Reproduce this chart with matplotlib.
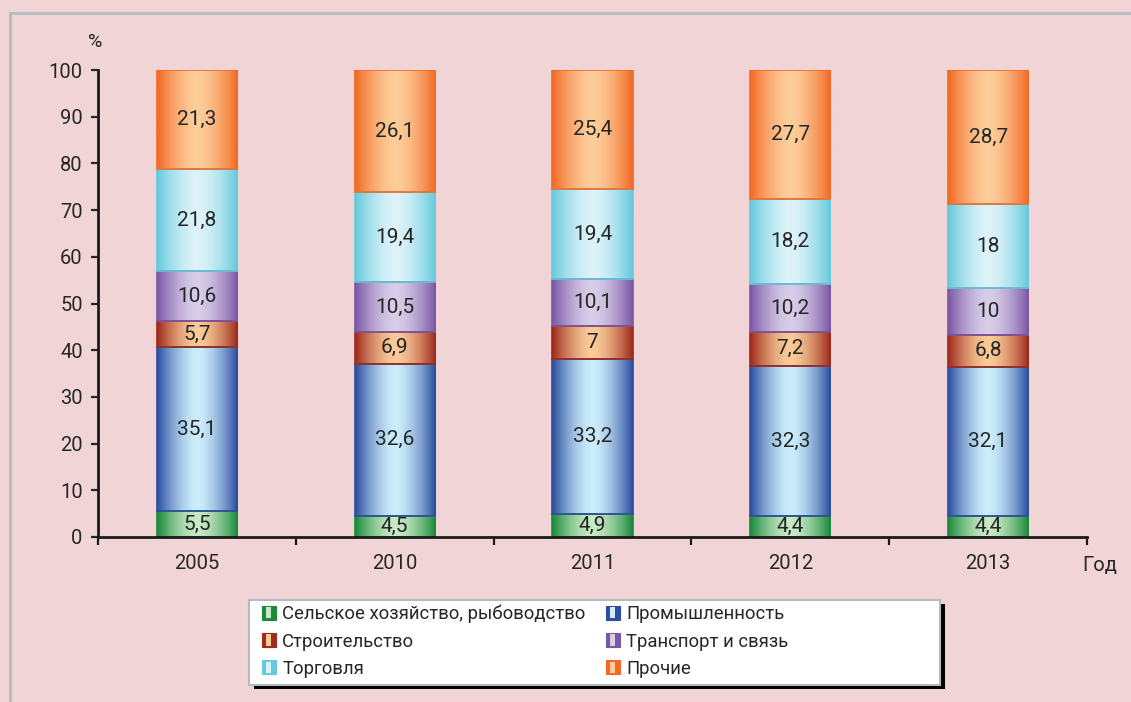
import numpy as np
import matplotlib
matplotlib.use("Agg")
import matplotlib.pyplot as plt
from matplotlib.patches import Rectangle
from matplotlib.lines import Line2D
from matplotlib.legend_handler import HandlerBase
from matplotlib.colors import to_rgb

plt.rcParams['font.family'] = ['Roboto', 'DejaVu Sans']

years = ['2005', '2010', '2011', '2012', '2013']
series_names = ['Сельское хозяйство, рыбоводство', 'Промышленность', 'Строительство',
                'Транспорт и связь', 'Торговля', 'Прочие']
agriculture = [5.5, 4.5, 4.9, 4.4, 4.4]
industry = [35.1, 32.6, 33.2, 32.3, 32.1]
construction = [5.7, 6.9, 7.0, 7.2, 6.8]
transport = [10.6, 10.5, 10.1, 10.2, 10.0]
trade = [21.8, 19.4, 19.4, 18.2, 18.0]
other = [21.3, 26.1, 25.4, 27.7, 28.7]
series = [agriculture, industry, construction, transport, trade, other]
labels_text = [
    ['5,5', '4,5', '4,9', '4,4', '4,4'],
    ['35,1', '32,6', '33,2', '32,3', '32,1'],
    ['5,7', '6,9', '7', '7,2', '6,8'],
    ['10,6', '10,5', '10,1', '10,2', '10'],
    ['21,8', '19,4', '19,4', '18,2', '18'],
    ['21,3', '26,1', '25,4', '27,7', '28,7'],
]
dark_colors = ['#1B8A3C', '#2D4EA0', '#9E2B1B', '#7B58A6', '#66CADC', '#F26A25']
light_colors = ['#C8EAC4', '#CCEEFB', '#FACB98', '#D8CEE8', '#DDF3F9', '#FDCD9A']

BG = '#F1D5D6'
W, H = 1131, 702
fig = plt.figure(figsize=(W / 100, H / 100), dpi=100, facecolor=BG)

# outer frame lines
fig.add_artist(Line2D([10 / W, 1.0], [1 - 13 / H, 1 - 13 / H], color='#B9BDBE', lw=2.2))
fig.add_artist(Line2D([10 / W, 10 / W], [0, 1 - 13 / H], color='#B9BDBE', lw=2.2))

ax = fig.add_axes([98 / W, 165 / H, (1087 - 98) / W, (537 - 70) / H])
ax.set_facecolor('none')


def gradient(dark, light, n=80, p=1.6):
    d = np.array(to_rgb(dark))
    l = np.array(to_rgb(light))
    t = np.linspace(0, 1, n)
    w = np.abs(2 * t - 1) ** p
    return (l[None, :] + (d - l)[None, :] * w[:, None])[None, :, :]


x = np.arange(len(years))
bottom = np.zeros(len(years))
for vals, dk, lt, labs in zip(series, dark_colors, light_colors, labels_text):
    bars = ax.bar(x, vals, width=0.405, bottom=bottom, facecolor='none',
                  edgecolor=dk, linewidth=1.2, zorder=3)
    g = gradient(dk, lt)
    for r, lab in zip(bars.patches, labs):
        x0, y0 = r.get_x(), r.get_y()
        ax.imshow(g, extent=[x0, x0 + r.get_width(), y0, y0 + r.get_height()],
                  aspect='auto', zorder=2, interpolation='bilinear')
        ax.text(x0 + r.get_width() / 2, y0 + r.get_height() / 2, lab,
                ha='center', va='center', fontsize=15, color='#262626', zorder=4)
    bottom += np.array(vals)

ax.set_xlim(-0.5, len(years) - 0.5)
ax.set_ylim(0, 100)
ax.set_yticks(np.arange(0, 101, 10))
ax.set_xticks(x)
ax.set_xticklabels(years)
ax.set_xticks(np.arange(-0.5, len(years)), minor=True)
ax.tick_params(axis='x', which='major', length=0, pad=12, labelsize=14.5, colors='#262626')
ax.tick_params(axis='x', which='minor', length=6, width=1.6, direction='out', color='#1a1a1a')
ax.tick_params(axis='y', length=5, width=1.6, direction='out', labelsize=14.5,
               colors='#262626', pad=6)
for s in ['top', 'right']:
    ax.spines[s].set_visible(False)
for s in ['left', 'bottom']:
    ax.spines[s].set_linewidth(2)
    ax.spines[s].set_color('#1a1a1a')
ax.spines['bottom'].set_zorder(5)

fig.text(95 / W, 1 - 42 / H, '%', ha='center', va='center', fontsize=14, color='#262626')
fig.text(1100 / W, 1 - 566 / H, 'Год', ha='center', va='center', fontsize=14.5, color='#262626')

# legend box with shadow
lx0, ly0, lx1, ly1 = 249, 600, 940, 685
fig.add_artist(Rectangle(((lx0 + 5) / W, 1 - (ly1 + 4) / H), (lx1 - lx0) / W, (ly1 - ly0) / H,
                         transform=fig.transFigure, facecolor='black', edgecolor='none', zorder=1))
fig.add_artist(Rectangle((lx0 / W, 1 - ly1 / H), (lx1 - lx0) / W, (ly1 - ly0) / H,
                         transform=fig.transFigure, facecolor='white', edgecolor='#B5BABB',
                         lw=1.5, zorder=2))


class GradHandler(HandlerBase):
    def __init__(self, dark, light):
        super().__init__()
        self.dark, self.light = dark, light

    def create_artists(self, legend, orig_handle, xdescent, ydescent, width, height,
                       fontsize, trans):
        s = 10
        x0 = width - s - 2
        y0 = (height - s) / 2
        arts = []
        arts.append(Rectangle((x0 - xdescent, y0 - ydescent), s, s, facecolor=self.dark,
                              edgecolor=self.dark, lw=0.8, transform=trans))
        arts.append(Rectangle((x0 - xdescent + s * 0.3, y0 - ydescent + 1), s * 0.4, s - 2,
                              facecolor=self.light, edgecolor='none', transform=trans))
        return arts


order = [0, 2, 4, 1, 3, 5]
handles = []
hmap = {}
for i in order:
    h = Rectangle((0, 0), 1, 1)
    handles.append(h)
    hmap[h] = GradHandler(dark_colors[i], light_colors[i])
leg = fig.legend(handles, [series_names[i] for i in order], ncol=2, frameon=False,
                 loc='upper left', bbox_to_anchor=(247 / W, 1 - 590 / H),
                 fontsize=13.3, handler_map=hmap, handlelength=0.9, handletextpad=0.2,
                 columnspacing=1.1, labelspacing=0.5, borderpad=0.3)
leg.set_zorder(3)
for t in leg.get_texts():
    t.set_color('#262626')

fig.savefig('out.png', dpi=100, facecolor=BG)
